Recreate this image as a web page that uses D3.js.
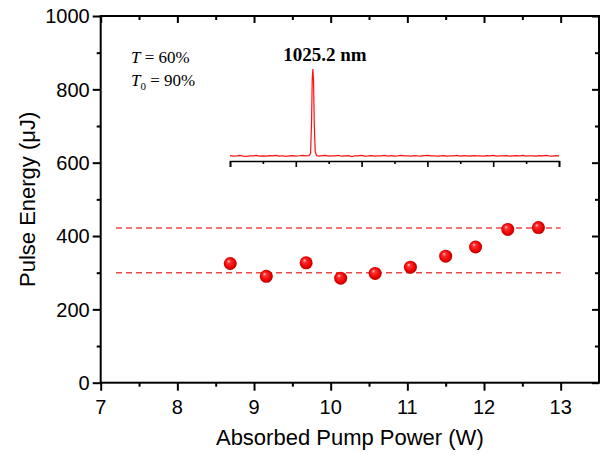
<!DOCTYPE html>
<html>
<head>
<meta charset="utf-8">
<script src="https://cdn.jsdelivr.net/npm/d3@7"></script>
<style>
  body { margin: 0; background: #fff; }
  svg { display: block; }
</style>
</head>
<body>
<script>
// pump power (W) and pulse energy (uJ)
const power = [8.69, 9.16, 9.68, 10.13, 10.58, 11.04, 11.5, 11.89, 12.31, 12.71];
const energy = [325, 290, 327, 285, 298, 315, 345, 370, 418, 423];
const guideLevels = [300, 422];
const guideRange = [7.2, 13];

// inset spectrum: baseline at 1 nm steps, peak points around 1025.2 nm
const baseStart = 1000;
const baseline = [
  0.058, 0.052, 0.056, 0.061, 0.054, 0.050, 0.057, 0.055, 0.060, 0.053,
  0.056, 0.052, 0.058, 0.055, 0.061, 0.054, 0.057, 0.051, 0.056, 0.059,
  0.053, 0.057, 0.062, 0.055, 0.058, null, null, 0.054, 0.059, 0.062,
  0.053, 0.057, 0.055, 0.060, 0.052, 0.056, 0.058, 0.048, 0.057, 0.055,
  0.061, 0.054, 0.056, 0.059, 0.053, 0.057, 0.055, 0.060, 0.054, 0.058,
  0.052, 0.056, 0.061, 0.055, 0.057, 0.053, 0.059, 0.056, 0.054, 0.058,
  0.062, 0.055, 0.057, 0.052, 0.056, 0.059, 0.054, 0.057, 0.055, 0.060,
  0.053, 0.058, 0.056, 0.054, 0.059, 0.055, 0.057, 0.052, 0.058, 0.056,
  0.060, 0.054, 0.057, 0.055, 0.059, 0.053, 0.056, 0.058, 0.055, 0.061,
  0.054, 0.057, 0.056, 0.053, 0.059, 0.055, 0.062, 0.056, 0.054, 0.058,
  0.055
];
const peakWl = [1024.5, 1024.8, 1025.0, 1025.2, 1025.4, 1025.6, 1025.9, 1026.3];
const peakI = [0.08, 0.45, 0.9, 1.0, 0.86, 0.42, 0.1, 0.06];

const xTicks = [7, 8, 9, 10, 11, 12, 13];
const yTicks = [0, 200, 400, 600, 800, 1000];
const insetTicks = [1000, 1020, 1040, 1060, 1080, 1100];

const W = 601, H = 455;
const m = { left: 100.7, right: 599, top: 16, bottom: 382.7 };

const svg = d3.select('body').append('svg')
  .attr('width', W)
  .attr('height', H);

const defs = svg.append('defs');
const grad = defs.append('radialGradient')
  .attr('id', 'ball')
  .attr('cx', '50%').attr('cy', '50%').attr('r', '55%')
  .attr('fx', '35%').attr('fy', '30%');
grad.append('stop').attr('offset', '0%').attr('stop-color', '#ffd0d0');
grad.append('stop').attr('offset', '25%').attr('stop-color', '#ff3030');
grad.append('stop').attr('offset', '70%').attr('stop-color', '#ee0000');
grad.append('stop').attr('offset', '100%').attr('stop-color', '#a00000');

const x = d3.scaleLinear().domain([7, 13.5]).range([m.left, m.right]);
const y = d3.scaleLinear().domain([0, 1000]).range([m.bottom, m.top]);

const font = '"Liberation Sans", Arial, sans-serif';
const serif = '"Liberation Serif", "Times New Roman", serif';

// dashed guide lines
svg.selectAll('.guide')
  .data(guideLevels)
  .enter().append('line')
  .attr('class', 'guide')
  .attr('x1', x(guideRange[0]))
  .attr('x2', x(guideRange[1]))
  .attr('y1', d => y(d))
  .attr('y2', d => y(d))
  .style('stroke', '#e84848')
  .style('stroke-width', 1.4)
  .style('stroke-dasharray', '6,4');

// axes: bottom/left with outward ticks, top/right with inward ticks
const minorX = d3.range(7.5, 13.5, 1);
const minorY = d3.range(100, 1000, 200);

function tickSet(g, axis, vals, len) {
  g.call(axis.tickValues(vals).tickSize(len).tickFormat(''));
  g.select('.domain').remove();
  g.selectAll('line').style('stroke', '#000').style('stroke-width', 2);
}

const axBottom = svg.append('g').attr('transform', `translate(0,${m.bottom})`);
tickSet(axBottom.append('g'), d3.axisBottom(x), xTicks, 8);
tickSet(axBottom.append('g'), d3.axisBottom(x), minorX, 4);
axBottom.selectAll('.lbl')
  .data(xTicks)
  .enter().append('text')
  .attr('x', d => x(d))
  .attr('y', 31)
  .attr('text-anchor', 'middle')
  .style('font-family', font)
  .style('font-size', '20px')
  .text(d => d);

const axTop = svg.append('g').attr('transform', `translate(0,${m.top})`);
tickSet(axTop.append('g'), d3.axisTop(x), xTicks, -7);
tickSet(axTop.append('g'), d3.axisTop(x), minorX, -4);

const axLeft = svg.append('g').attr('transform', `translate(${m.left},0)`);
tickSet(axLeft.append('g'), d3.axisLeft(y), yTicks, 8);
tickSet(axLeft.append('g'), d3.axisLeft(y), minorY, 4);
axLeft.selectAll('.lbl')
  .data(yTicks)
  .enter().append('text')
  .attr('x', -11)
  .attr('y', d => y(d))
  .attr('dy', '0.36em')
  .attr('text-anchor', 'end')
  .style('font-family', font)
  .style('font-size', '20px')
  .text(d => d);

const axRight = svg.append('g').attr('transform', `translate(${m.right},0)`);
tickSet(axRight.append('g'), d3.axisRight(y), yTicks, -7);
tickSet(axRight.append('g'), d3.axisRight(y), minorY, -4);

// frame
svg.append('rect')
  .attr('x', m.left)
  .attr('y', m.top)
  .attr('width', m.right - m.left)
  .attr('height', m.bottom - m.top)
  .style('fill', 'none')
  .style('stroke', '#000')
  .style('stroke-width', 2);

// axis titles
svg.append('text')
  .attr('x', (m.left + m.right) / 2)
  .attr('y', 445)
  .attr('text-anchor', 'middle')
  .style('font-family', font)
  .style('font-size', '22px')
  .text('Absorbed Pump Power (W)');

svg.append('text')
  .attr('transform', `translate(35,${(m.top + m.bottom) / 2}) rotate(-90)`)
  .attr('text-anchor', 'middle')
  .style('font-family', font)
  .style('font-size', '22px')
  .text('Pulse Energy (\u03bcJ)');

// data points
svg.selectAll('.pt')
  .data(power.map((p, i) => ({ p, e: energy[i] })))
  .enter().append('circle')
  .attr('class', 'pt')
  .attr('cx', d => x(d.p))
  .attr('cy', d => y(d.e))
  .attr('r', 6.5)
  .style('fill', 'url(#ball)');

// annotation T / T0
const ann = svg.append('g')
  .style('font-family', serif)
  .style('font-size', '17px');
const t1 = ann.append('text').attr('x', 131).attr('y', 63);
t1.append('tspan').style('font-style', 'italic').text('T');
t1.append('tspan').text(' = 60%');
const t2 = ann.append('text').attr('x', 131).attr('y', 86);
t2.append('tspan').style('font-style', 'italic').text('T');
t2.append('tspan').attr('dy', 4).style('font-size', '11px').text('0');
t2.append('tspan').attr('dy', -4).text(' = 90%');

// inset spectrum
const xi = d3.scaleLinear().domain([1000, 1100]).range([230, 559]);
const yi = d3.scaleLinear().domain([0, 1]).range([161, 69]);

let spec = baseline
  .map((v, i) => ({ wl: baseStart + i, v }))
  .filter(d => d.v !== null);
spec = spec.concat(peakWl.map((w, i) => ({ wl: w, v: peakI[i] })));
spec.sort((a, b) => a.wl - b.wl);

svg.append('path')
  .datum(spec)
  .attr('d', d3.line().x(d => xi(d.wl)).y(d => yi(d.v)))
  .style('fill', 'none')
  .style('stroke', '#ff1010')
  .style('stroke-width', 1.2);

const inset = svg.append('g').attr('transform', 'translate(0,161)');
inset.call(d3.axisBottom(xi).tickValues(insetTicks).tickSize(6).tickFormat(''));
inset.append('g')
  .call(d3.axisBottom(xi).tickValues(d3.range(1010, 1100, 20)).tickSize(3).tickFormat(''))
  .select('.domain').remove();
inset.selectAll('.domain, line').style('stroke', '#000').style('stroke-width', 1.6);
inset.selectAll('.lbl')
  .data(insetTicks)
  .enter().append('text')
  .attr('x', d => xi(d))
  .attr('y', 25)
  .attr('text-anchor', 'middle')
  .style('font-family', font)
  .style('font-size', '20px')
  .text(d => d);

svg.append('text')
  .attr('x', xi(1025.2) + 12)
  .attr('y', 61)
  .attr('text-anchor', 'middle')
  .style('font-family', serif)
  .style('font-weight', 'bold')
  .style('font-size', '19px')
  .text('1025.2 nm');
</script>
</body>
</html>
